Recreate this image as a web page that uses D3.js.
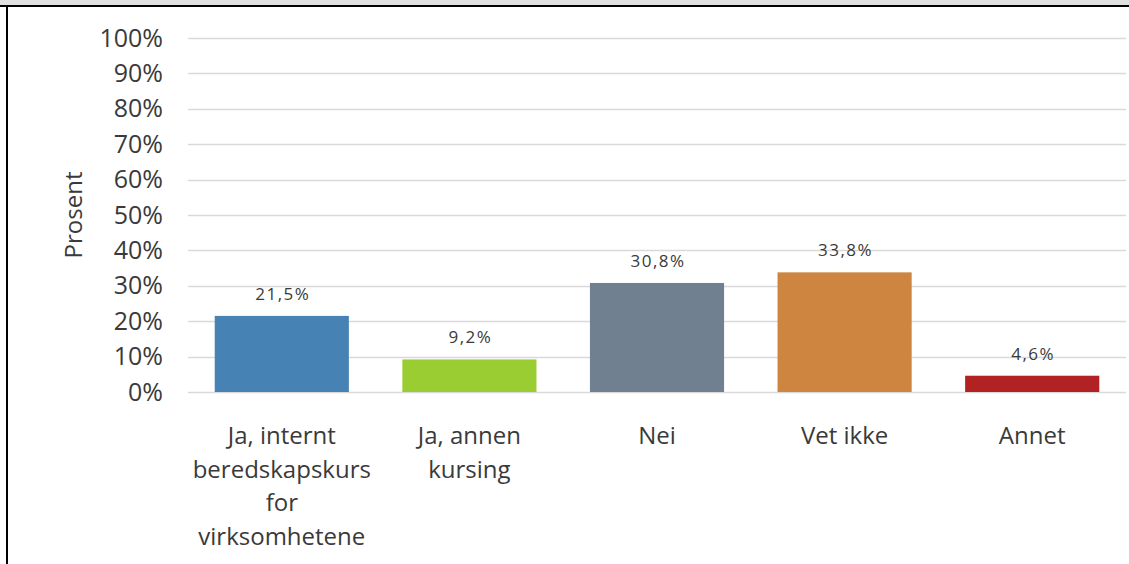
<!DOCTYPE html>
<html>
<head>
<meta charset="utf-8">
<script src="https://cdn.jsdelivr.net/npm/d3@7"></script>
<style>
  body { margin: 0; background: #fff; }
  svg { display: block; }
  text { font-family: "Open Sans", "Noto Sans", sans-serif; fill: #3a3a3a; }
</style>
</head>
<body>
<div id="chart"></div>
<script>
// data
var categories = ["Ja, internt beredskapskurs for virksomhetene", "Ja, annen kursing", "Nei", "Vet ikke", "Annet"];
var categoryLines = [["Ja, internt", "beredskapskurs", "for", "virksomhetene"], ["Ja, annen", "kursing"], ["Nei"], ["Vet ikke"], ["Annet"]];
var values = [21.5, 9.2, 30.8, 33.8, 4.6];
var valueLabels = ["21,5%", "9,2%", "30,8%", "33,8%", "4,6%"];
var barColors = ["#4682B4", "#9ACD32", "#708090", "#CD853F", "#B22222"];
var yTicks = [0, 10, 20, 30, 40, 50, 60, 70, 80, 90, 100];

var W = 1129, H = 564;
var margin = { top: 38, right: 3, bottom: 172, left: 188 };
var width = W - margin.left - margin.right;
var height = H - margin.top - margin.bottom;

var root = d3.select("#chart").append("svg")
    .attr("width", W)
    .attr("height", H);

// frame pieces at top and left
root.append("rect").attr("x", 0).attr("y", 0).attr("width", W).attr("height", 5).attr("fill", "#e0e0e0");
root.append("rect").attr("x", 0).attr("y", 5).attr("width", W).attr("height", 2).attr("fill", "#000");
root.append("rect").attr("x", 6).attr("y", 5).attr("width", 2).attr("height", H).attr("fill", "#000");

var svg = root.append("g")
    .attr("transform", "translate(" + margin.left + "," + margin.top + ")");

var x = d3.scaleBand()
    .domain(categories)
    .range([0, width])
    .paddingInner(0.285)
    .paddingOuter(0.1425);

var y = d3.scaleLinear()
    .domain([0, 100])
    .range([height, 0]);

// gridlines
svg.selectAll(".grid")
    .data(yTicks)
    .enter().append("line")
    .attr("class", "grid")
    .attr("x1", 0)
    .attr("x2", width)
    .attr("y1", function(d) { return Math.round(y(d)) + 0.5; })
    .attr("y2", function(d) { return Math.round(y(d)) + 0.5; })
    .attr("stroke", "#d9d9d9")
    .attr("stroke-width", 1.5);

// y axis labels
var yAxis = d3.axisLeft(y)
    .tickValues(yTicks)
    .tickSize(0)
    .tickPadding(25)
    .tickFormat(function(d) { return d + "%"; });

var yg = svg.append("g").call(yAxis);
yg.select(".domain").remove();
yg.selectAll("text")
    .style("font-size", "25px")
    .attr("fill", "#3a3a3a");

// y title
svg.append("text")
    .attr("transform", "translate(" + (-106) + "," + y(50) + ") rotate(-90)")
    .attr("text-anchor", "middle")
    .style("font-size", "24px")
    .text("Prosent");

// bars
svg.selectAll(".bar")
    .data(values)
    .enter().append("rect")
    .attr("class", "bar")
    .attr("x", function(d, i) { return x(categories[i]); })
    .attr("width", x.bandwidth())
    .attr("y", function(d) { return y(d); })
    .attr("height", function(d) { return height - y(d); })
    .attr("fill", function(d, i) { return barColors[i]; });

// value labels
svg.selectAll(".vlabel")
    .data(values)
    .enter().append("text")
    .attr("class", "vlabel")
    .attr("x", function(d, i) { return x(categories[i]) + x.bandwidth() / 2 + 1; })
    .attr("y", function(d) { return y(d) - 16; })
    .attr("text-anchor", "middle")
    .style("font-size", "17px")
    .style("letter-spacing", "1.5px")
    .text(function(d, i) { return valueLabels[i]; });

// category labels
var cat = svg.selectAll(".clabel")
    .data(categories)
    .enter().append("text")
    .attr("class", "clabel")
    .attr("text-anchor", "middle")
    .attr("x", function(d) { return x(d) + x.bandwidth() / 2; })
    .attr("y", height + 52)
    .style("font-size", "24px");

cat.each(function(d, i) {
    var t = d3.select(this);
    categoryLines[i].forEach(function(line, j) {
        t.append("tspan")
            .attr("x", x(d) + x.bandwidth() / 2)
            .attr("dy", j === 0 ? 0 : 33.6)
            .text(line);
    });
});
</script>
</body>
</html>
